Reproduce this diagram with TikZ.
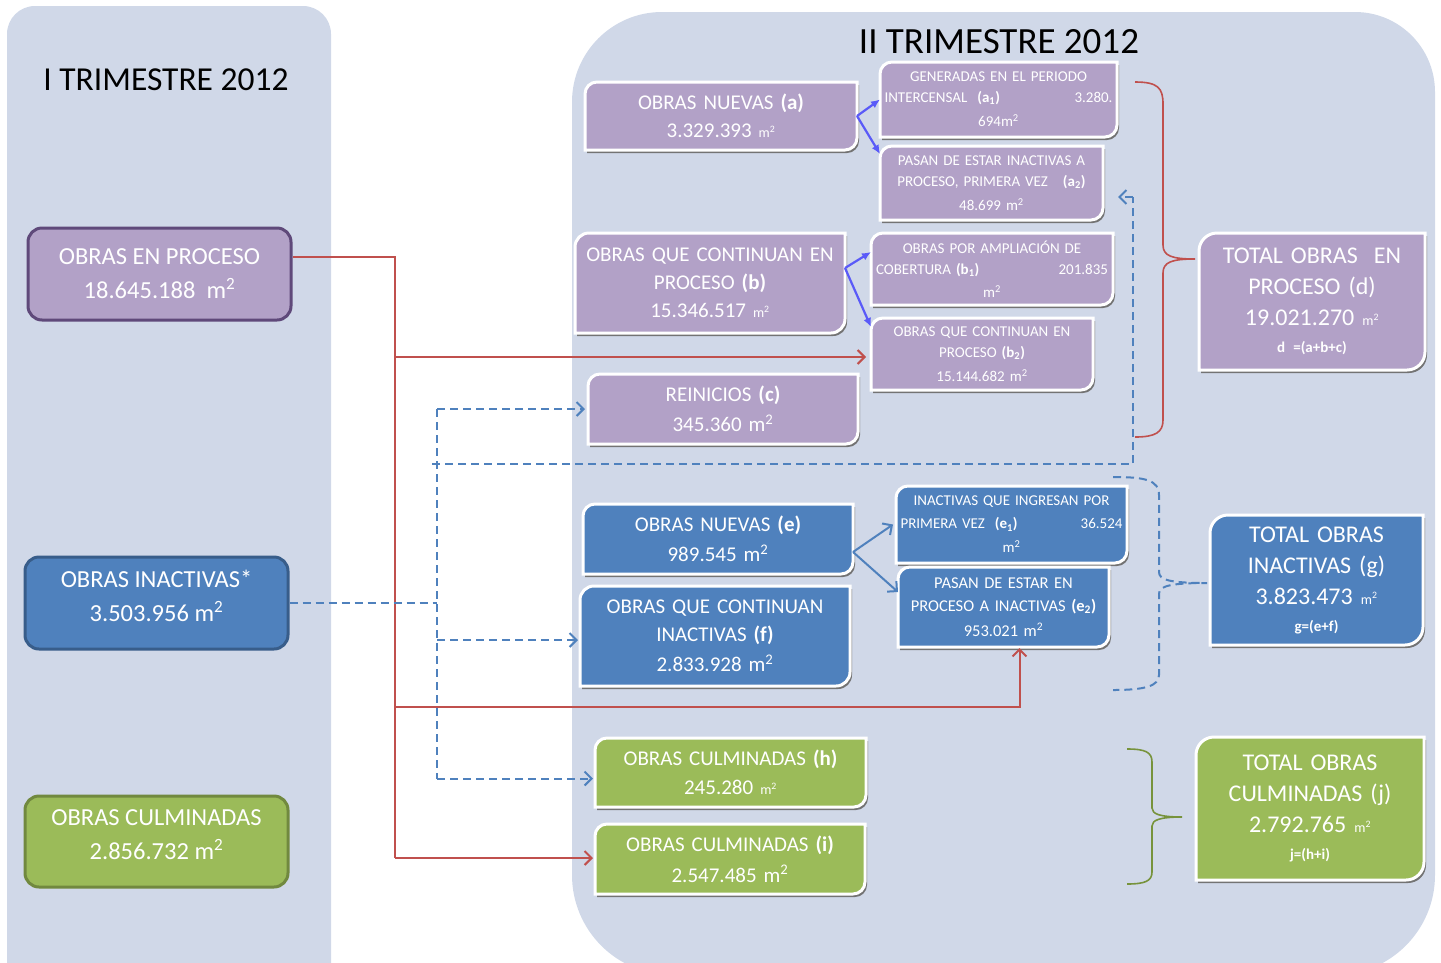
\documentclass[tikz,border=0pt]{standalone}
\usepackage{fontspec}
\setmainfont{Carlito}
\usetikzlibrary{arrows.meta,calc,backgrounds}
\definecolor{panel}{HTML}{D0D8E8}
\definecolor{purp}{HTML}{B2A1C7}
\definecolor{purpb}{HTML}{5F497A}
\definecolor{bluf}{HTML}{4F81BD}
\definecolor{blub}{HTML}{385D8A}
\definecolor{grnf}{HTML}{9BBB59}
\definecolor{grnb}{HTML}{71893F}
\definecolor{redc}{HTML}{C0504D}
\definecolor{vio}{HTML}{5A5AF8}
\definecolor{grbr}{HTML}{77933C}
\newcommand\fA{\fontsize{21}{28}\selectfont}
\newcommand\fS{\fontsize{15}{21}\selectfont}
\newcommand\fE{\fontsize{15}{23}\selectfont}
\newcommand\fL{\fontsize{24.5}{34}\selectfont}
\newcommand\fT{\fontsize{24}{31}\selectfont}
\newcommand\fF{\fontsize{15}{18}\selectfont}
\newcommand\smm{{\fontsize{14}{14}\selectfont m\textsuperscript{2}}}
\newcommand\diagshape[3]{%
  \fill[black!55] ($(#1.south west)+(2,-3)$) -- ($(#1.north west)+(2,-3-#3)$) arc[start angle=180,end angle=90,radius=#3pt] -- ($(#1.north east)+(2,-3)$) -- ($(#1.south east)+(2,-3+#3)$) arc[start angle=0,end angle=-90,radius=#3pt] -- cycle;
  \filldraw[fill=#2, draw=white, line width=3pt] (#1.south west) -- ($(#1.north west)+(0,-#3)$) arc[start angle=180,end angle=90,radius=#3pt] -- (#1.north east) -- ($(#1.south east)+(0,#3)$) arc[start angle=0,end angle=-90,radius=#3pt] -- cycle;}
\tikzset{
  rbox/.style={inner sep=0pt, outer sep=0pt, align=center, text=white, font=\fA},
  sbox/.style={rbox, font=\fS},
  tbox/.style={rbox, font=\fT},
  lbox/.style={rounded corners=14pt, line width=3pt, inner sep=0pt, align=center, text=white, font=\fL, minimum width=263pt},
  redl/.style={draw=redc, line width=2pt},
  redarr/.style={redl, -{Straight Barb[length=7pt,width=14pt,line width=2pt]}},
  vioarr/.style={draw=vio, line width=2.2pt, -{Latex[length=9pt,width=8pt]}},
  bluarr/.style={draw=bluf, line width=2pt, -{Straight Barb[length=7pt,width=14pt,line width=2pt]}},
  dashl/.style={draw=bluf, line width=2pt, dash pattern=on 8pt off 5pt},
  dasharr/.style={dashl, -{Straight Barb[length=7pt,width=14pt,line width=2pt,sep=0pt]}},
  ttl/.style={inner sep=0pt, text=black}
}
\begin{document}
\begin{tikzpicture}[x=1pt,y=1pt]
\useasboundingbox (0,0) rectangle (1441,-962);
% titles
\node[ttl, font=\fontsize{33.5}{33}\selectfont] (t1) at (166,-80) {I TRIMESTRE 2012};
\node[ttl, font=\fontsize{37}{37}\selectfont] (t2) at (999,-42) {II TRIMESTRE 2012};
% left boxes
\node[lbox, fill=purp, draw=purpb, minimum height=92pt] (EP) at (159.5,-274) {OBRAS EN PROCESO\\18.645.188~~m\textsuperscript{2}};
\node[lbox, fill=bluf, draw=blub, minimum height=92pt] (IN) at (156.5,-603) {OBRAS INACTIVAS*\\3.503.956 m\textsuperscript{2}\\[-20pt]\mbox{}};
\node[lbox, fill=grnf, draw=grnb, minimum height=91pt] (CU) at (156.5,-841.5) {OBRAS CULMINADAS\\2.856.732 m\textsuperscript{2}\\[-20pt]\mbox{}};
% right boxes
\node[rbox, minimum width=272pt, minimum height=68pt, text width=262pt] (a) at (721,-116) {OBRAS NUEVAS \textbf{(a)}\\3.329.393 \smm};
\node[sbox, minimum width=237pt, minimum height=75pt, text width=228pt] (a1) at (998.5,-99.5) {GENERADAS EN EL PERIODO\\\makebox[228pt]{INTERCENSAL~~\textbf{(a\textsubscript{1})}\hfill 3.280.}\\[3pt]694m\textsuperscript{2}};
\node[sbox, minimum width=223pt, minimum height=74pt, text width=215pt] (a2) at (991.5,-183) {PASAN DE ESTAR INACTIVAS A\\PROCESO, PRIMERA VEZ~~~\textbf{(a\textsubscript{2})}\\[3pt]48.699 m\textsuperscript{2}};
\node[rbox, minimum width=270pt, minimum height=100pt, text width=262pt] (b) at (710,-283) {OBRAS QUE CONTINUAN EN\\PROCESO \textbf{(b)}\\15.346.517 \smm};
\node[sbox, minimum width=242pt, minimum height=72pt, text width=232pt] (b1) at (992,-269) {OBRAS POR AMPLIACIÓN DE\\\makebox[232pt]{COBERTURA \textbf{(b\textsubscript{1})}\hfill 201.835}\\[2pt]m\textsuperscript{2}};
\node[sbox, minimum width=222pt, minimum height=72pt, text width=214pt] (b2) at (982,-354) {OBRAS QUE CONTINUAN EN\\PROCESO \textbf{(b\textsubscript{2})}\\[3pt]15.144.682 m\textsuperscript{2}};
\node[rbox, minimum width=270pt, minimum height=70pt, text width=262pt] (c) at (723,-409) {REINICIOS \textbf{(c)}\\[2pt]345.360 m\textsuperscript{2}};
\node[rbox, minimum width=270pt, minimum height=70pt, text width=262pt] (e) at (718,-539) {OBRAS NUEVAS \textbf{(e)}\\[2pt]989.545 m\textsuperscript{2}};
\node[rbox, minimum width=270pt, minimum height=100pt, text width=262pt] (f) at (715,-636) {OBRAS QUE CONTINUAN\\INACTIVAS \textbf{(f)}\\[2pt]2.833.928 m\textsuperscript{2}};
\node[rbox, font=\fE, minimum width=231pt, minimum height=77pt, text width=222pt] (e1) at (1011.5,-524.5) {INACTIVAS QUE INGRESAN POR\\\makebox[222pt]{PRIMERA VEZ~~\textbf{(e\textsubscript{1})}\hfill 36.524}\\[1pt]m\textsuperscript{2}};
\node[rbox, font=\fontsize{16.5}{23}\selectfont, minimum width=211pt, minimum height=80pt, text width=206pt] (e2) at (1003.5,-607) {PASAN DE ESTAR EN\\PROCESO A INACTIVAS \textbf{(e\textsubscript{2})}\\[2pt]953.021 m\textsuperscript{2}};
\node[rbox, font=\fontsize{21}{29}\selectfont, minimum width=271pt, minimum height=69pt, text width=262pt] (h) at (730.5,-772.5) {OBRAS CULMINADAS \textbf{(h)}\\245.280 \smm};
\node[rbox, font=\fontsize{21}{31}\selectfont, minimum width=270pt, minimum height=70pt, text width=262pt] (i) at (730,-859) {OBRAS CULMINADAS \textbf{(i)}\\2.547.485 m\textsuperscript{2}};
\node[tbox, minimum width=226pt, minimum height=137pt, text width=216pt] (d) at (1312,-301.5) {TOTAL OBRAS~~EN\\PROCESO (d)\\19.021.270 \smm\\[-4pt]{\fF\textbf{d =(a+b+c)}}};
\node[tbox, minimum width=213pt, minimum height=130pt, text width=204pt] (g) at (1316.5,-580) {TOTAL OBRAS\\INACTIVAS (g)\\3.823.473 \smm\\[-4pt]{\fF\textbf{g=(e+f)}}};
\node[tbox, minimum width=228pt, minimum height=143pt, text width=218pt] (j) at (1310,-808.5) {TOTAL OBRAS\\CULMINADAS (j)\\2.792.765 \smm\\[-4pt]{\fF\textbf{j=(h+i)}}};
% background: panels and box shapes
\begin{scope}[on background layer]
  \fill[panel] (7,-975) -- (7,-34) arc[start angle=180,end angle=90,radius=28pt] -- (303,-6) arc[start angle=90,end angle=0,radius=28pt] -- (331,-975) -- cycle;
  \fill[panel] (572,-875) -- (572,-102) arc[start angle=180,end angle=90,radius=90pt] -- (1355,-12) arc[start angle=90,end angle=0,radius=80pt] -- (1435,-875) arc[start angle=0,end angle=-90,radius=100pt] -- (672,-975) arc[start angle=270,end angle=180,radius=100pt] -- cycle;
  \foreach \n/\c/\r in {a/purp/12,a1/purp/12,a2/purp/12,b/purp/14,b1/purp/12,b2/purp/12,c/purp/12,e/bluf/12,f/bluf/14,e1/bluf/12,e2/bluf/12,h/grnf/12,i/grnf/12,d/purp/18,g/bluf/18,j/grnf/18}{\diagshape{\n}{\c}{\r}}
\end{scope}
% red connectors
\coordinate (rtop) at (395,-257);
\coordinate (rbot) at (395,-858);
\coordinate (rmid) at (395,-707);
\draw[redl] ([yshift=17pt]EP.east) -- (rtop) -- (rbot);
\draw[redarr, shorten >=2pt] (rbot) -- (rbot -| i.west);
\draw[redarr, shorten >=5pt] ([yshift=-3pt]rtop |- b2.west) -- ([yshift=-3pt]b2.west);
\draw[redarr, shorten >=1pt] (rmid) -| ([xshift=16pt]e2.south);
% violet / blue split arrows
\draw[vioarr] (a.east) -- (a1.west);
\draw[vioarr] (a.east) -- ([yshift=-8pt]a2.north west);
\draw[vioarr] ([yshift=15pt]b.east) -- ([yshift=17pt]b1.west);
\draw[vioarr] ([yshift=15pt]b.east) -- ([yshift=-9pt]b2.north west);
\draw[bluarr] ([yshift=-13pt]e.east) -- ([xshift=-3pt]e1.west);
\draw[bluarr] ([yshift=-13pt]e.east) -- ([yshift=15pt]e2.west);
% blue dashed connectors
\coordinate (bx) at (437,0);
\coordinate (bh1) at (437,-464);
\coordinate (bh2) at (1133,-464);
\coordinate (bh3) at (1133,-197);
\coordinate (bh4) at (1118,-197);
\draw[dashl] (IN.east) -- (IN.east -| bx);
\draw[dashl] (bx |- c.west) -- ([yshift=-6pt]bx |- h.west);
\draw[dasharr, shorten >=3pt] (bx |- c.west) -- (c.west);
\draw[dasharr, shorten >=2pt] ([yshift=-4pt]bx |- f.west) -- ([yshift=-4pt]f.west);
\draw[dasharr, shorten >=2pt] ([yshift=-6pt]bx |- h.west) -- ([yshift=-6pt]h.west);
\draw[dashl] ([xshift=-5pt]bh1) -- (bh2) -- (bh3);
\draw[dasharr] (bh3) -- (bh4);
% braces
\draw[draw=redc, line width=1.6pt] (1135,-82) .. controls (1158,-82) and (1163,-88) .. (1163,-104) -- (1163,-245) .. controls (1163,-256) and (1172,-259) .. (1195,-259) .. controls (1172,-259) and (1163,-262) .. (1163,-273) -- (1163,-420) .. controls (1163,-432) and (1156,-437) .. (1135,-437);
\draw[dashl] (1113,-477) .. controls (1145,-477) and (1159,-480) .. (1159,-495) -- (1159,-572) .. controls (1159,-580) and (1170,-583) .. (1207,-583) .. controls (1170,-583) and (1159,-586) .. (1159,-594) -- (1159,-675) .. controls (1159,-686) and (1145,-690) .. (1113,-690);
\draw[draw=grbr, line width=1.6pt] (1127,-749) .. controls (1145,-749) and (1152,-752) .. (1152,-762) -- (1152,-808) .. controls (1152,-814) and (1160,-817) .. (1182,-817) .. controls (1160,-817) and (1152,-820) .. (1152,-826) -- (1152,-872) .. controls (1152,-881) and (1145,-884) .. (1127,-884);
\end{tikzpicture}
\end{document}
